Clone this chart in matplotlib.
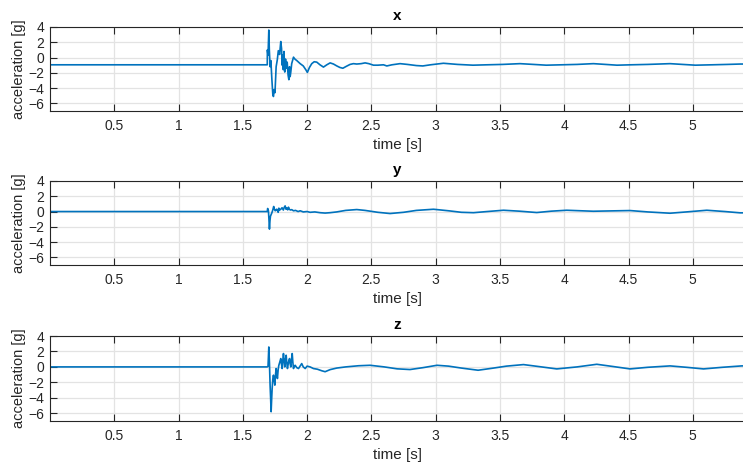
import matplotlib
matplotlib.use('Agg')
import matplotlib.pyplot as plt

plt.rcParams['font.family'] = ['Liberation Sans', 'DejaVu Sans']

# x axis acceleration
x_time = [0.0, 1.690, 1.691, 1.696, 1.702, 1.706, 1.712, 1.718, 1.726, 1.733,
          1.738, 1.744, 1.750, 1.759, 1.768, 1.776, 1.786, 1.795, 1.801, 1.806,
          1.810, 1.815, 1.820, 1.826, 1.832, 1.838, 1.845, 1.852, 1.858, 1.863,
          1.868, 1.873, 1.880, 1.894, 1.905, 1.920, 1.946, 1.970, 1.990, 2.002,
          2.018, 2.036, 2.055, 2.075, 2.100, 2.127, 2.153, 2.179, 2.205, 2.231,
          2.255, 2.278, 2.305, 2.334, 2.360, 2.386, 2.420, 2.451, 2.480, 2.516,
          2.550, 2.594, 2.620, 2.660, 2.723, 2.780, 2.850, 2.900, 2.960, 3.060,
          3.170, 3.290, 3.400, 3.520, 3.656, 3.760, 3.860, 3.980, 4.100, 4.227,
          4.320, 4.410, 4.520, 4.650, 4.823, 4.920, 5.020, 5.150, 5.270, 5.370,
          5.410]
x_acc = [-0.95, -0.95, 1.0, 0.3, 3.6, 1.0, -1.2, -0.4, -2.9, -4.8,
         -5.1, -4.2, -4.6, -1.2, -0.3, 0.9, 0.4, 2.1, 1.2, -1.0,
         0.3, -1.6, 0.8, -1.9, -0.2, -1.4, -0.6, -2.3, -2.9, -1.2,
         -2.5, -1.9, -0.8, 0.05, -0.2, -0.4, -0.8, -1.1, -1.6, -1.95,
         -1.3, -0.8, -0.55, -0.6, -0.95, -1.25, -0.95, -0.7, -0.85, -1.1,
         -1.3, -1.4, -1.15, -0.9, -0.8, -0.85, -0.8, -0.7, -0.8, -1.0,
         -1.0, -0.95, -1.1, -0.95, -0.8, -0.9, -1.05, -1.1, -0.95, -0.75,
         -0.9, -1.0, -0.95, -0.9, -0.8, -0.9, -1.0, -0.95, -0.9, -0.8,
         -0.9, -1.0, -0.95, -0.9, -0.8, -0.9, -1.0, -0.95, -0.9, -0.85,
         -0.85]

# y axis acceleration
y_time = [0.0, 1.690, 1.693, 1.699, 1.703, 1.707, 1.711, 1.715, 1.720, 1.725,
          1.733, 1.740, 1.746, 1.752, 1.758, 1.764, 1.770, 1.775, 1.780, 1.786,
          1.795, 1.805, 1.815, 1.822, 1.829, 1.836, 1.842, 1.849, 1.855, 1.862,
          1.870, 1.880, 1.894, 1.910, 1.930, 1.946, 1.970, 2.000, 2.023, 2.060,
          2.101, 2.140, 2.179, 2.230, 2.300, 2.386, 2.450, 2.550, 2.645, 2.750,
          2.850, 2.983, 3.100, 3.200, 3.294, 3.400, 3.527, 3.650, 3.786, 3.900,
          4.019, 4.130, 4.226, 4.350, 4.512, 4.650, 4.823, 4.950, 5.109, 5.250,
          5.368, 5.410]
y_acc = [0.0, 0.0, 0.4, 0.1, -1.0, -2.3, -1.2, -0.6, -0.4, -0.2,
         0.2, 0.66, 0.3, 0.1, 0.2, 0.31, 0.1, -0.1, 0.44, 0.2,
         0.3, 0.5, 0.2, 0.55, 0.74, 0.3, 0.45, 0.22, 0.57, 0.3,
         0.2, 0.25, 0.1, 0.15, 0.0, 0.1, -0.05, 0.0, -0.1, -0.05,
         -0.15, -0.2, -0.15, -0.05, 0.15, 0.26, 0.15, -0.1, -0.26, -0.1,
         0.15, 0.3, 0.1, -0.1, -0.15, 0.0, 0.17, 0.05, -0.13, 0.05,
         0.17, 0.1, 0.04, 0.08, 0.13, -0.05, -0.22, -0.05, 0.17, 0.0,
         -0.17, -0.17]

# z axis acceleration
z_time = [0.0, 1.690, 1.696, 1.702, 1.707, 1.712, 1.716, 1.720, 1.724, 1.728,
          1.733, 1.738, 1.744, 1.749, 1.754, 1.759, 1.764, 1.769, 1.775, 1.780,
          1.787, 1.795, 1.800, 1.806, 1.811, 1.816, 1.821, 1.826, 1.831, 1.837,
          1.842, 1.847, 1.855, 1.863, 1.868, 1.873, 1.878, 1.884, 1.889, 1.894,
          1.900, 1.907, 1.920, 1.933, 1.945, 1.958, 1.970, 1.985, 2.000, 2.023,
          2.049, 2.080, 2.114, 2.140, 2.179, 2.230, 2.300, 2.400, 2.490, 2.600,
          2.700, 2.800, 2.900, 3.010, 3.100, 3.200, 3.330, 3.450, 3.550, 3.683,
          3.800, 3.942, 4.100, 4.253, 4.380, 4.512, 4.650, 4.823, 4.950, 5.083,
          5.230, 5.380, 5.410]
z_acc = [0.0, 0.0, 0.1, 2.58, 0.5, -2.36, -4.0, -5.8, -4.2, -2.8,
         -1.6, -1.07, -1.8, -2.36, -1.0, -0.21, -0.9, -1.5, -0.3, 0.21,
         0.6, 1.08, 0.4, -0.21, 0.9, 1.73, 0.8, 0.0, 0.9, 1.51,
         0.5, -0.21, 0.6, 1.08, 0.4, 0.0, 0.9, 1.73, 0.6, -0.21,
         0.1, 0.21, -0.1, -0.21, 0.1, 0.43, 0.0, -0.21, 0.1, 0.0,
         -0.21, -0.3, -0.5, -0.62, -0.35, -0.15, 0.0, 0.15, 0.21, 0.0,
         -0.25, -0.34, -0.1, 0.21, 0.1, -0.15, -0.43, -0.15, 0.1, 0.3,
         0.05, -0.26, 0.0, 0.34, 0.05, -0.26, -0.05, 0.13, -0.05, -0.26,
         -0.05, 0.13, 0.13]

titles = ['x', 'y', 'z']
x_ticks = [0.5, 1, 1.5, 2, 2.5, 3, 3.5, 4, 4.5, 5]
y_ticks = [-6, -4, -2, 0, 2, 4]

W, H = 743, 468
fig = plt.figure(figsize=(W / 100, H / 100), dpi=100)

# axes boxes in pixels (left, top, right, bottom)
boxes = [(50, 27, 745, 111), (50, 181, 745, 265), (50, 336, 745, 421)]
series = [(x_time, x_acc), (y_time, y_acc), (z_time, z_acc)]

dark = '#262626'
for (l, t, r, b), (tt, aa), name in zip(boxes, series, titles):
    ax = fig.add_axes([l / W, 1 - b / H, (r - l) / W, (b - t) / H])
    ax.plot(tt, aa, color='#0072BD', lw=1.2)
    ax.set_xlim(0.0, 5.406)
    ax.set_ylim(-7, 4)
    ax.set_xticks(x_ticks)
    ax.set_xticklabels(['0.5', '1', '1.5', '2', '2.5', '3', '3.5', '4', '4.5', '5'])
    ax.set_yticks(y_ticks)
    ax.grid(True, color='#e3e3e3', lw=0.9)
    ax.set_axisbelow(True)
    for s in ax.spines.values():
        s.set_color(dark)
        s.set_linewidth(0.8)
    # figure is cut at the right, no right edge visible
    ax.spines['right'].set_visible(False)
    ax.tick_params(direction='in', length=5, width=0.8, color=dark,
                   labelcolor=dark, labelsize=10, top=True, right=False)
    ax.tick_params(axis='x', pad=6)
    ax.tick_params(axis='y', pad=4)
    ax.set_title(name, fontsize=11, fontweight='bold', pad=5, color='black')
    ax.set_xlabel('time [s]', fontsize=11, color=dark, labelpad=3)
    ax.set_ylabel('acceleration [g]', fontsize=10.5, color=dark, labelpad=2)

fig.savefig('out.png', dpi=100)
